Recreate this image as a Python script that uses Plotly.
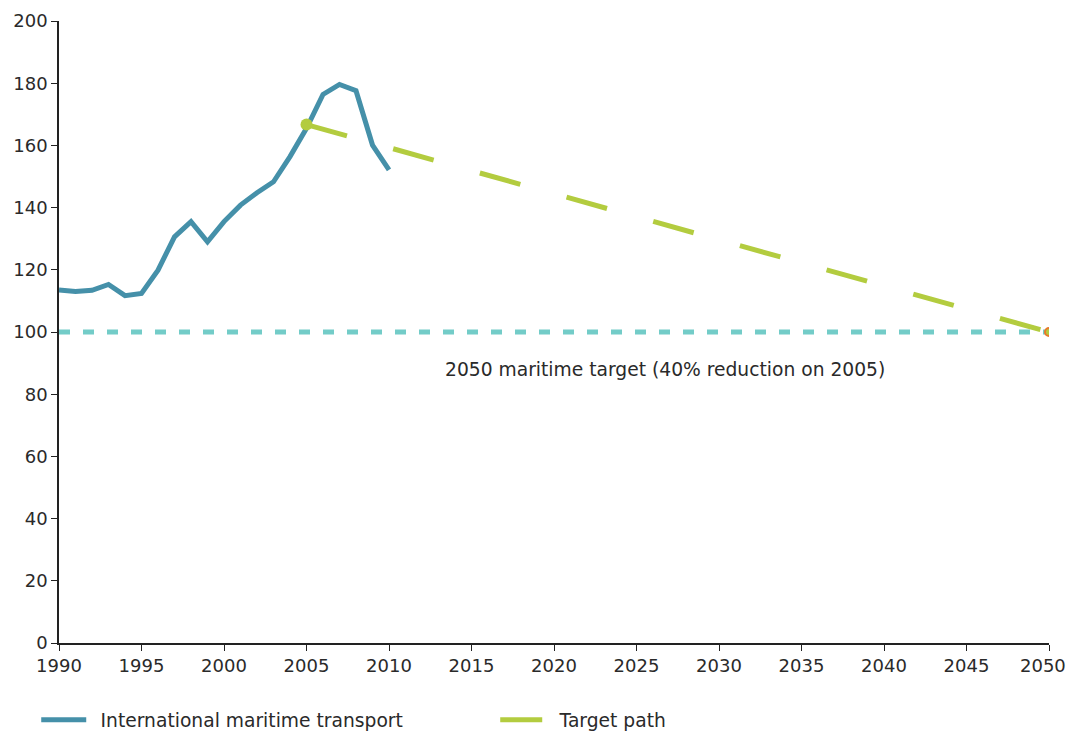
import plotly.graph_objects as go

years = list(range(1990, 2011))
maritime = [113.5, 113.0, 113.4, 115.3, 111.7, 112.4, 119.9, 130.6, 135.5, 129.0,
            135.5, 140.8, 144.8, 148.3, 156.4, 165.5, 176.4, 179.6, 177.6, 160.1, 152.1]
target_years = [2005, 2050]
target_values = [166.7, 100]
baseline_years = [1990, 2050]
baseline_values = [100, 100]
x_ticks = list(range(1990, 2051, 5))
x_tick_labels = [str(v) for v in x_ticks]
y_ticks = list(range(0, 201, 20))
note_text = "2050 maritime target (40% reduction on 2005)"

FONT = "DejaVu Sans"
FS = 18.7
TICK_FS = 18
TXT = "#2a2a2a"
BLUE = "#4590a9"
GREEN = "#b3cc3f"
TEAL = "#73ccc8"
ORANGE = "#e8792b"

fig = go.Figure()
fig.add_trace(go.Scatter(x=baseline_years, y=baseline_values, mode="lines",
                         line=dict(color=TEAL, width=5, dash="11px,13px"),
                         showlegend=False, hoverinfo="skip"))
fig.add_trace(go.Scatter(x=years, y=maritime, mode="lines",
                         name="\u2002International maritime transport",
                         line=dict(color=BLUE, width=5)))
fig.add_trace(go.Scatter(x=target_years, y=target_values, mode="lines",
                         name="\u2002Target path",
                         line=dict(color=GREEN, width=5, dash="42px,48px")))
fig.add_trace(go.Scatter(x=target_years[:1], y=target_values[:1], mode="markers",
                         marker=dict(color=GREEN, size=12), showlegend=False))
fig.add_trace(go.Scatter(x=target_years[1:], y=target_values[1:], mode="markers",
                         marker=dict(color=GREEN, size=8, line=dict(color=ORANGE, width=2)),
                         showlegend=False))

fig.add_annotation(x=2026.7, y=88, text=note_text, showarrow=False,
                   font=dict(family=FONT, size=FS, color=TXT))
# last x tick label, right-aligned so it stays inside the page
fig.add_annotation(x=x_ticks[-1], y=0, yref="paper", xref="x", text=x_tick_labels[-1],
                   showarrow=False, xanchor="right", yanchor="top", xshift=19, yshift=-10,
                   font=dict(family=FONT, size=TICK_FS, color=TXT))

fig.update_layout(
    width=1069, height=731,
    margin=dict(l=59, r=20, t=21, b=88, autoexpand=False),
    paper_bgcolor="white", plot_bgcolor="white",
    font=dict(family=FONT, size=FS, color=TXT),
    legend=dict(orientation="h", x=-0.023, xanchor="left", y=-0.124, yanchor="middle",
                entrywidth=399, entrywidthmode="pixels", itemwidth=45,
                font=dict(family=FONT, size=FS, color=TXT)),
)
fig.update_xaxes(range=[1990, 2050], tickvals=x_ticks,
                 ticktext=x_tick_labels[:-1] + [""],
                 showgrid=False, zeroline=False,
                 showline=True, linecolor="#222222", linewidth=1.5, automargin=False,
                 ticklabeloverflow="allow", tickfont=dict(size=TICK_FS),
                 ticks="outside", ticklen=6, tickcolor="#222222")
fig.update_yaxes(range=[0, 200], tickvals=y_ticks, showgrid=False, zeroline=False,
                 showline=True, linecolor="#222222", linewidth=1.5, automargin=False,
                 ticklabeloverflow="allow", tickfont=dict(size=TICK_FS),
                 ticks="outside", ticklen=6, tickcolor="#222222")

fig.write_html("out.html", config={"displayModeBar": False},
               post_script="document.body.style.margin='0';document.body.style.overflow='hidden';")
